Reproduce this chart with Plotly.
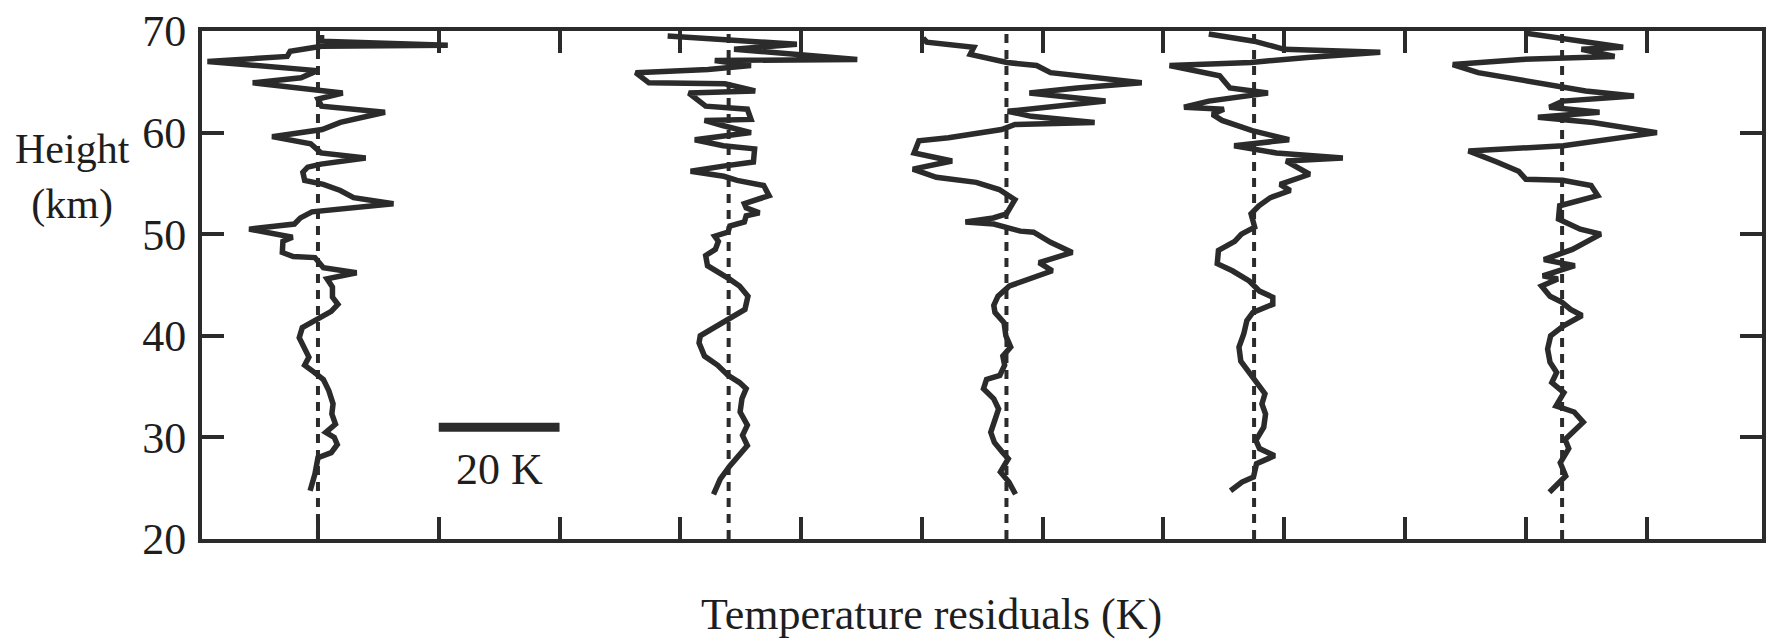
import plotly.graph_objects as go

# Five lidar temperature-residual profiles, each drawn about its own zero line.
# Heights in km, residuals in K.
profile_offsets = [0, 68, 114, 155, 206]

p1_height = [24.75, 26.4, 28.0, 28.5, 29.3, 30.0, 30.5, 31.3, 32.3, 33.3, 34.6, 35.7,
             36.4, 37.1, 37.9, 38.7, 39.8, 40.8, 41.3, 41.8, 42.4, 43.1, 43.8, 44.8,
             45.6, 46.2, 46.7, 47.7, 47.8, 48.2, 49.3, 49.7, 50.5, 51.0, 51.6, 52.2,
             53.0, 53.6, 54.3, 54.9, 55.3, 56.1, 56.6, 56.9, 57.5, 58.0, 58.9, 59.6,
             60.3, 61.0, 62.0, 62.6, 63.3, 63.9, 64.3, 64.9, 65.4, 66.1, 67.0, 67.5,
             68.0, 68.5, 68.6, 69.0, 69.6]
p1_resid = [-1.3, -0.5, 0.0, 2.2, 3.2, 2.7, 1.3, 2.9, 2.3, 2.5, 1.8, 0.9,
            -0.6, -2.2, -1.5, -2.1, -3.1, -2.6, -1.1, 0.4, 2.2, 3.3, 2.4, 2.4,
            1.5, 6.4, 0.9, -0.5, -4.1, -5.9, -5.8, -4.2, -11.4, -3.9, -2.9, -1.0,
            12.5, 5.9, 3.7, 0.9, -2.2, -2.5, -1.7, 0.5, 7.9, 0.5, -1.2, -7.6,
            0.7, 3.7, 11.1, 0.6, 0.0, 4.1, -2.2, -10.8, -2.8, -0.1, -18.3, -5.1,
            -4.6, 0.6, 21.5, 0.6, 0.6]

p2_height = [24.4, 25.9, 27.2, 28.2, 29.2, 30.2, 31.2, 32.5, 33.8, 34.8, 35.4, 36.1,
             37.1, 38.0, 39.3, 40.0, 41.0, 41.6, 42.6, 43.9, 44.9, 45.6, 46.2, 46.9,
             47.9, 48.5, 49.3, 49.8, 50.2, 50.8, 51.2, 51.8, 52.1, 52.6, 53.0, 53.8,
             54.8, 55.3, 55.7, 56.2, 56.7, 57.1, 58.4, 58.7, 59.3, 59.7, 60.0, 60.7,
             61.2, 61.3, 62.3, 62.6, 63.9, 64.1, 64.8, 64.9, 65.9, 66.2, 66.6, 67.1,
             67.2, 68.2, 68.7, 69.5]
p2_resid = [-2.5, -1.4, 0.2, 1.8, 3.1, 2.3, 3.1, 1.9, 2.2, 2.9, 1.8, -0.1,
            -1.8, -4.0, -4.9, -4.7, -1.9, 0.2, 2.7, 3.2, 1.8, 0.1, -1.6, -3.5,
            -3.8, -2.2, -1.7, -2.3, -0.1, 0.2, 2.6, 2.9, 5.1, 2.9, 2.6, 6.7,
            5.8, 1.4, -0.8, -6.3, -0.9, 4.1, 4.3, -0.9, -5.6, -0.4, 3.7, -1.0,
            -4.0, 3.7, 3.1, -3.8, -6.6, 4.4, -0.6, -13.2, -15.4, -3.4, 3.7, -2.3,
            21.3, 0.9, 11.3, -10.1]

p3_height = [24.4, 25.6, 26.6, 27.9, 28.5, 29.5, 30.5, 31.5, 32.8, 33.8, 34.8, 35.7,
             36.1, 37.1, 38.0, 38.9, 40.0, 41.3, 42.3, 43.0, 43.9, 44.9, 45.9, 46.4,
             47.2, 48.2, 49.2, 50.2, 50.3, 51.0, 51.2, 51.6, 52.0, 53.4, 54.4, 55.1,
             55.6, 56.4, 57.2, 58.0, 59.2, 59.5, 60.3, 60.8, 61.0, 61.6, 62.1, 63.1,
             63.9, 64.4, 64.9, 65.9, 66.6, 66.9, 67.7, 68.4, 68.9, 69.3]
p3_resid = [1.5, 0.4, -1.0, 0.3, -0.6, -2.0, -2.6, -2.0, -1.3, -2.1, -3.8, -3.3,
            -1.1, -0.3, -0.6, 0.7, -0.1, -0.4, -1.9, -2.1, -1.4, 0.5, 5.2, 7.6,
            5.4, 10.9, 7.3, 4.5, 2.3, -2.1, -6.8, -2.2, 0.0, 1.4, -1.2, -5.0,
            -11.6, -15.5, -9.0, -15.3, -14.5, -9.6, -0.8, 1.4, 14.6, 4.1, 0.2, 16.4,
            3.8, 11.7, 22.4, 7.3, 5.0, 0.1, -6.0, -5.4, -13.2, -13.8]

p4_height = [24.75, 25.6, 26.1, 27.4, 28.2, 28.9, 29.7, 31.0, 32.3, 33.3, 34.3, 35.6,
             36.6, 37.5, 38.9, 40.2, 41.5, 42.3, 43.1, 43.8, 44.4, 45.4, 46.4, 47.1,
             48.4, 49.3, 50.0, 50.7, 52.0, 52.8, 53.6, 54.3, 54.9, 55.9, 57.2, 57.5,
             58.0, 58.7, 59.3, 60.2, 61.2, 61.8, 62.3, 62.5, 63.1, 63.6, 63.9, 64.4,
             65.6, 66.6, 66.9, 67.4, 67.9, 68.2, 69.0, 69.7]
p4_resid = [-3.9, -2.0, -0.1, 0.4, 3.4, 0.9, 0.3, 1.6, 1.9, 1.3, 1.8, 0.1,
            -1.1, -2.2, -2.5, -1.7, -1.2, -0.2, 3.1, 3.1, 0.9, -0.8, -3.6, -6.1,
            -5.9, -3.2, -2.1, 0.1, -0.5, 0.8, 2.7, 6.0, 4.3, 9.2, 5.3, 14.7,
            3.7, -3.3, 5.8, -0.3, -5.3, -6.9, -5.0, -11.6, -7.5, -2.1, 2.3, -4.0,
            -5.7, -14.0, -0.5, 8.8, 20.9, 5.0, 0.0, -7.5]

p5_height = [24.6, 25.3, 26.2, 27.5, 28.9, 29.8, 31.5, 32.5, 33.1, 34.4, 35.4, 36.4,
             37.4, 38.7, 40.0, 41.0, 42.0, 42.6, 43.3, 43.9, 44.9, 45.6, 45.9, 46.9,
             47.5, 48.5, 50.0, 50.5, 51.5, 52.8, 53.8, 54.8, 55.3, 55.4, 56.2, 57.1,
             58.2, 58.7, 60.0, 61.0, 61.5, 62.0, 62.5, 63.1, 63.6, 64.1, 64.8, 65.1,
             65.9, 66.7, 67.2, 67.5, 68.2, 68.4, 69.8]
p5_resid = [-2.1, -0.8, 0.6, -0.3, 1.1, 0.5, 3.5, 2.0, -1.0, 0.3, -1.7, -0.9,
            -2.0, -2.4, -1.9, 0.3, 3.3, 1.4, 0.0, -2.0, -3.4, -0.7, -3.2, 2.1,
            -3.0, 1.7, 6.4, 3.0, -0.6, -0.4, 5.9, 4.8, 0.1, -6.0, -7.2, -10.8,
            -15.5, 0.2, 15.7, 5.1, -4.0, 6.2, -2.1, 0.1, 11.9, 3.9, -3.3, -5.9,
            -13.9, -18.1, -6.7, 8.7, 3.2, 10.1, -6.2]

profile_heights = [p1_height, p2_height, p3_height, p4_height, p5_height]
profile_resids = [p1_resid, p2_resid, p3_resid, p4_resid, p5_resid]

height_range = [20, 70]
height_ticks = [20, 30, 40, 50, 60, 70]
residual_ticks = list(range(0, 221, 20))
residual_range = [-19.2, 239.1]

# 20 K scale bar and its label position
scale_bar_k = [20, 40]
scale_bar_height = 31
scale_label = "20 K"
scale_label_pos = (30, 26.8)

INK = "#2b2b2b"
TEXT = "#1e1e1e"
SERIF = "Liberation Serif, Times New Roman, serif"

fig = go.Figure()

for off, hts, res in zip(profile_offsets, profile_heights, profile_resids):
    # zero reference of this profile
    fig.add_trace(go.Scatter(
        x=[off, off], y=height_range, mode="lines",
        line=dict(color=INK, width=4, dash="9px,7px"),
        hoverinfo="skip", showlegend=False))
    fig.add_trace(go.Scatter(
        x=[off + r for r in res], y=hts, mode="lines",
        line=dict(color=INK, width=5.5),
        showlegend=False))

fig.add_trace(go.Scatter(
    x=scale_bar_k, y=[scale_bar_height, scale_bar_height], mode="lines",
    line=dict(color=INK, width=9), hoverinfo="skip", showlegend=False))

fig.add_annotation(x=scale_label_pos[0], y=scale_label_pos[1], xref="x", yref="y",
                   text=scale_label, showarrow=False,
                   xanchor="center", yanchor="middle",
                   font=dict(family=SERIF, size=44, color=TEXT))

fig.add_annotation(x=0.4674, y=-0.148, xref="paper", yref="paper",
                   text="Temperature residuals (K)", showarrow=False,
                   xanchor="center", yanchor="middle",
                   font=dict(family=SERIF, size=44, color=TEXT))

fig.add_annotation(x=-0.083, y=0.713, xref="paper", yref="paper",
                   text="Height<br>(km)", showarrow=False, align="center",
                   xanchor="center", yanchor="middle",
                   font=dict(family=SERIF, size=42, color=TEXT))

axis_common = dict(
    showline=True, linewidth=4, linecolor=INK, mirror="ticks",
    ticks="inside", ticklen=22, tickwidth=4, tickcolor=INK,
    showgrid=False, zeroline=False,
)

fig.update_xaxes(range=residual_range, tickmode="array", tickvals=residual_ticks,
                 showticklabels=False, **axis_common)
fig.update_yaxes(range=height_range, tickmode="array", tickvals=height_ticks,
                 ticklabelstandoff=3,
                 tickfont=dict(family=SERIF, size=44, color=TEXT),
                 **axis_common)

fig.update_layout(
    width=1772, height=643,
    margin=dict(l=202, r=6, t=31, b=104),
    paper_bgcolor="white", plot_bgcolor="white",
    showlegend=False,
)

fig.write_html("out.html")
